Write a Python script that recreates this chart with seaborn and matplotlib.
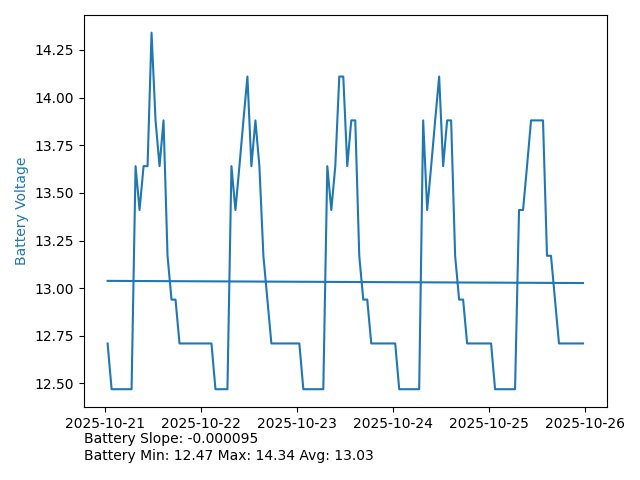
import numpy as np
import pandas as pd
import matplotlib
matplotlib.use("Agg")
import matplotlib.pyplot as plt
import seaborn as sns

# hourly readings starting just after midnight on 2025-10-21
start = "2025-10-21 00:35"
day1 = [12.71, 12.47, 12.47, 12.47, 12.47, 12.47, 12.47,
        13.64, 13.41, 13.64, 13.64, 14.34, 13.88, 13.64, 13.88, 13.17, 12.94, 12.94,
        12.71, 12.71, 12.71, 12.71, 12.71, 12.71, 12.71, 12.71, 12.71]
day2 = [12.47, 12.47, 12.47, 12.47,
        13.64, 13.41, 13.64, 13.88, 14.11, 13.64, 13.88, 13.64, 13.17, 12.94,
        12.71, 12.71, 12.71, 12.71, 12.71, 12.71, 12.71, 12.71]
day3 = [12.47, 12.47, 12.47, 12.47, 12.47, 12.47,
        13.64, 13.41, 13.64, 14.11, 14.11, 13.64, 13.88, 13.88, 13.17, 12.94, 12.94,
        12.71, 12.71, 12.71, 12.71, 12.71, 12.71, 12.71]
day4 = [12.47, 12.47, 12.47, 12.47, 12.47, 12.47,
        13.88, 13.41, 13.64, 13.88, 14.11, 13.64, 13.88, 13.88, 13.17, 12.94, 12.94,
        12.71, 12.71, 12.71, 12.71, 12.71, 12.71, 12.71]
day5 = [12.47, 12.47, 12.47, 12.47, 12.47, 12.47,
        13.41, 13.41, 13.64, 13.88, 13.88, 13.88, 13.88, 13.17, 13.17, 12.94,
        12.71, 12.71, 12.71, 12.71, 12.71, 12.71, 12.71]

slope_text = "Battery Slope: -0.000095"
stats_text = "Battery Min: 12.47 Max: 14.34 Avg: 13.03"

voltage = day1 + day2 + day3 + day4 + day5
df = pd.DataFrame({
    "time": pd.date_range(start, periods=len(voltage), freq="h"),
    "voltage": voltage,
})

# linear trend over sample index
idx = np.arange(len(df))
m, b = np.polyfit(idx, df["voltage"], 1)
df["trend"] = m * idx + b

fig, ax = plt.subplots(figsize=(6.4, 4.8), dpi=100)
sns.lineplot(data=df, x="time", y="voltage", color="C0", ax=ax)
sns.lineplot(data=df, x="time", y="trend", color="C0", ax=ax)
ax.set_xlabel("")
ax.set_ylabel("Battery Voltage", color="C0")

fig.subplots_adjust(left=0.131, right=0.948, top=0.969, bottom=0.152)
fig.text(0.131, 0.099, slope_text + "\n" + stats_text, ha="left", va="top", fontsize=10)

plt.savefig("out.png")
